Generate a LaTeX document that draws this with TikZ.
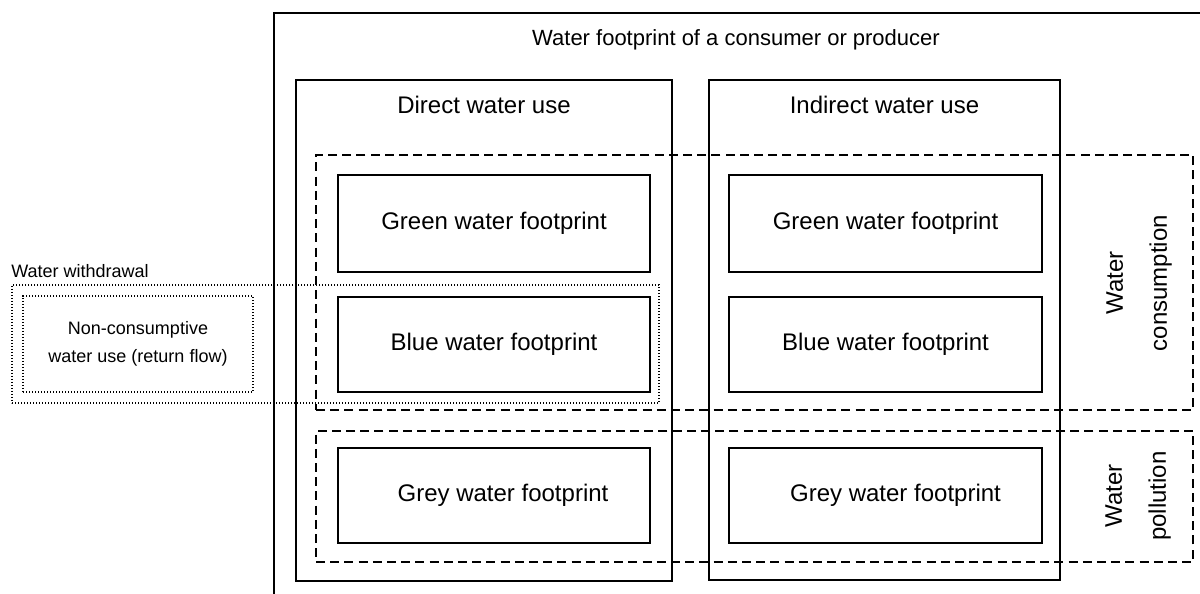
\documentclass[tikz,border=0pt]{standalone}
\usepackage{fontspec}
\setmainfont{Liberation Sans}
\begin{document}
\begin{tikzpicture}[x=0.5pt,y=-0.5pt,
  solidbox/.style={draw,line width=1pt,inner sep=0pt,outer sep=0pt},
  dashbox/.style={draw,line width=1.1pt,dash pattern=on 4.5pt off 2.6pt,inner sep=0pt,outer sep=0pt},
  dotbox/.style={draw,line width=0.6pt,dash pattern=on 0.6pt off 0.9pt,inner sep=0pt,outer sep=0pt},
  fp/.style={solidbox,minimum height=48pt,font=\fontsize{12}{14}\selectfont},
  lbl/.style={inner sep=0pt,font=\fontsize{12}{14}\selectfont},
  small/.style={inner sep=0pt,font=\fontsize{9}{14}\selectfont,align=center}]
\clip (0,0) rectangle (1200,594);
% outer box (cut off at right and bottom)
\node[solidbox,minimum width=468pt,minimum height=295.5pt] (outer) at (742,308.5) {};
\node[lbl,font=\fontsize{11}{13}\selectfont] (title) at (736,40) {Water footprint of a consumer or producer};
% direct and indirect columns
\node[solidbox,minimum width=188pt,minimum height=250.5pt] (direct) at (484,330.5) {};
\node[lbl] (directlbl) at (484,105) {Direct water use};
\node[solidbox,minimum width=175.5pt,minimum height=250pt] (indirect) at (884.5,330) {};
\node[lbl] (indirectlbl) at (884.5,105) {Indirect water use};
% footprint boxes
\node[fp,minimum width=156pt,minimum height=48.5pt] (g1) at (494,223.5) {Green water footprint};
\node[fp,minimum width=156pt,minimum height=47.5pt] (b1) at (494,344.5) {Blue water footprint};
\node[fp,minimum width=156pt,minimum height=47.5pt] (r1) at (494,495.5) {\hspace*{9pt}Grey water footprint};
\node[fp,minimum width=156.5pt,minimum height=48.5pt] (g2) at (885.5,223.5) {Green water footprint};
\node[fp,minimum width=156.5pt,minimum height=47.5pt] (b2) at (885.5,344.5) {Blue water footprint};
\node[fp,minimum width=156.5pt,minimum height=47.5pt] (r2) at (885.5,495.5) {\hspace*{10pt}Grey water footprint};
% consumption and pollution (dashed)
\node[dashbox,minimum width=438.5pt,minimum height=127.5pt] (cons) at (754.5,282.5) {};
\node[dashbox,minimum width=438.5pt,minimum height=65.5pt] (poll) at (754.5,496.5) {};
\node[lbl,rotate=90,align=center,font=\fontsize{12}{22}\selectfont] (conslbl) at (1139,283) {Water\\consumption};
\node[lbl,rotate=90,align=center,font=\fontsize{12}{22}\selectfont] (polllbl) at (1138,496) {Water\\pollution};
% withdrawal (dotted)
\node[dotbox,minimum width=323.5pt,minimum height=59pt] (withdraw) at (335.5,344) {};
\node[small,anchor=west] (withdrawlbl) at (11,271) {Water withdrawal};
\node[dotbox,minimum width=115pt,minimum height=48pt,small] (noncons) at (138,344) {Non-consumptive\\water use (return flow)};
\end{tikzpicture}
\end{document}
